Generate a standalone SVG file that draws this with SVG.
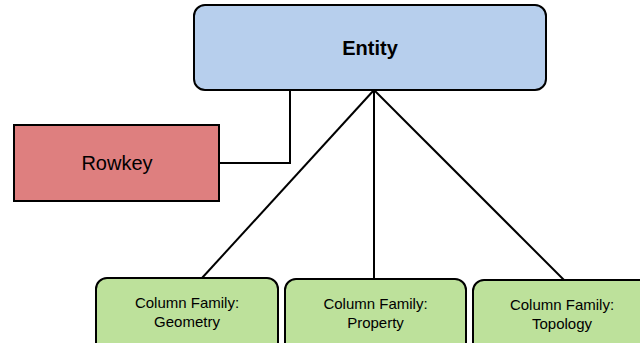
<svg xmlns="http://www.w3.org/2000/svg" width="640" height="343" viewBox="0 0 640 343">
<style>
.box{stroke:#000;stroke-width:2}
.cf{fill:#bde19b}
.t{font-family:"Liberation Sans",Arial,sans-serif;fill:#000;text-anchor:middle}
.cft{font-size:15px}
.conn{stroke:#000;stroke-width:2;fill:none}
</style>
<rect width="640" height="343" fill="#fff"/>
<g id="connectors">
<polyline class="conn" points="219,163 290,163 290,90"/>
<line class="conn" x1="374" y1="90" x2="202" y2="278"/>
<line class="conn" x1="374" y1="90" x2="374" y2="279"/>
<line class="conn" x1="374" y1="90" x2="564" y2="280"/>
</g>
<g id="entity">
<rect class="box" x="194" y="5" width="352" height="85" rx="11" fill="#b7cfed"/>
<text class="t" x="370" y="55" font-size="20" font-weight="bold">Entity</text>
</g>
<g id="rowkey">
<rect class="box" x="14" y="125" width="205" height="76" fill="#de7f7f"/>
<text class="t" x="117" y="170" font-size="20">Rowkey</text>
</g>
<g id="geometry">
<rect class="box cf" x="96" y="278" width="182" height="80" rx="11"/>
<text class="t cft" x="187" y="308">Column Family:</text>
<text class="t cft" x="187" y="327">Geometry</text>
</g>
<g id="property">
<rect class="box cf" x="285" y="279" width="181" height="80" rx="11"/>
<text class="t cft" x="375.5" y="309">Column Family:</text>
<text class="t cft" x="375.5" y="328">Property</text>
</g>
<g id="topology">
<rect class="box cf" x="473" y="280" width="180" height="80" rx="11"/>
<text class="t cft" x="562" y="310">Column Family:</text>
<text class="t cft" x="562" y="329">Topology</text>
</g>
</svg>
